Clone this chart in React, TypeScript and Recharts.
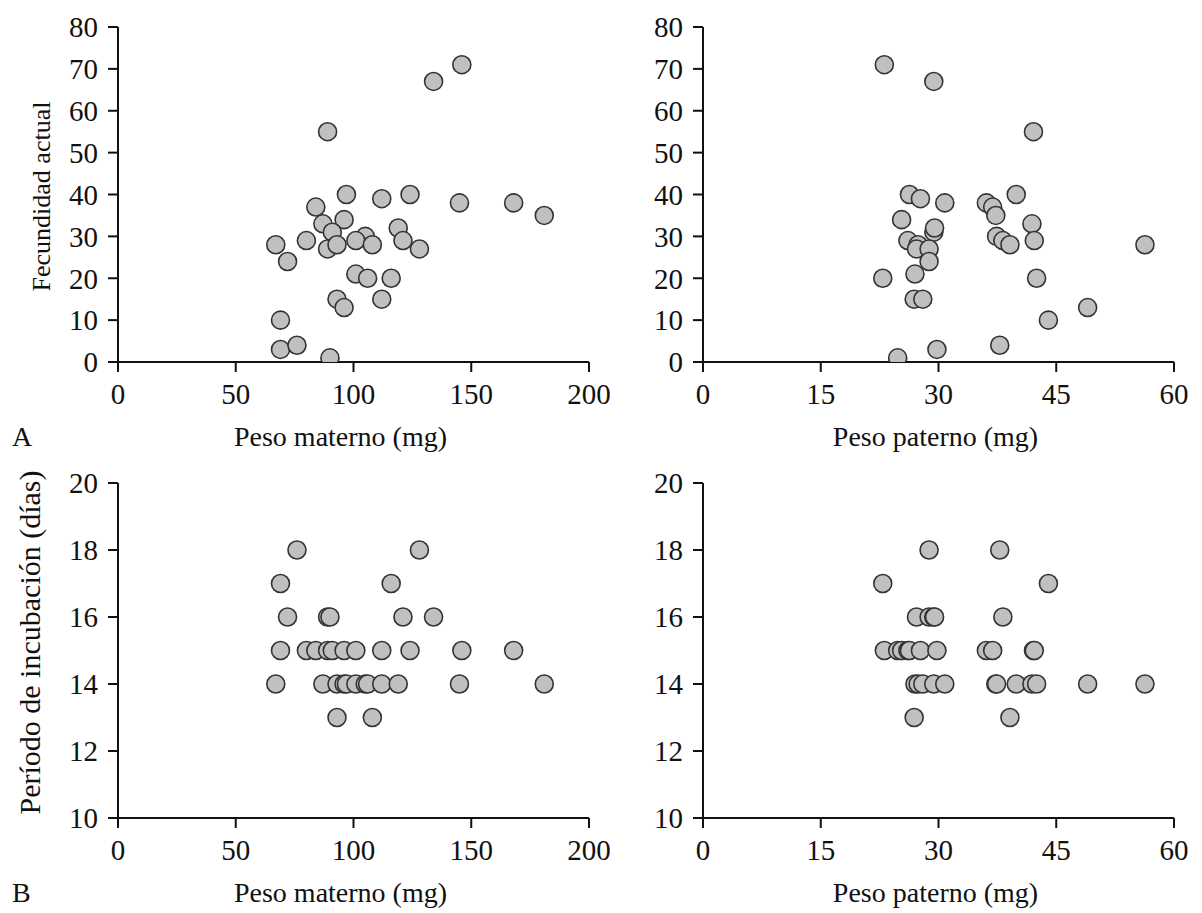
import React from 'react';
import { ScatterChart, Scatter, XAxis, YAxis, Label } from 'recharts';

// Panel A (top): fecundity vs maternal / paternal weight
const maternalWeightA = [146, 134, 89, 97, 112, 124, 145, 168, 181, 84, 87, 96, 91, 119, 105, 67, 80, 89, 93, 101, 108, 121, 128, 72, 101, 106, 116, 93, 96, 112, 69, 69, 76, 90];
const fecundityMaternal = [71, 67, 55, 40, 39, 40, 38, 38, 35, 37, 33, 34, 31, 32, 30, 28, 29, 27, 28, 29, 28, 29, 27, 24, 21, 20, 20, 15, 13, 15, 10, 3, 4, 1];

const paternalWeightA = [23.1, 29.4, 42.1, 26.3, 27.7, 30.8, 36.1, 36.9, 39.9, 25.3, 37.3, 41.9, 29.4, 29.5, 26.1, 27.4, 27.2, 28.8, 28.8, 37.4, 38.2, 39.1, 42.2, 56.3, 22.9, 27.0, 42.5, 26.9, 28.0, 49.0, 44.0, 37.8, 29.8, 24.8];
const fecundityPaternal = [71, 67, 55, 40, 39, 38, 38, 37, 40, 34, 35, 33, 31, 32, 29, 28, 27, 27, 24, 30, 29, 28, 29, 28, 20, 21, 20, 15, 15, 13, 10, 4, 3, 1];

// Panel B (bottom): incubation period vs maternal / paternal weight
const maternalWeightB = [67, 69, 69, 72, 76, 80, 84, 87, 89, 89, 90, 91, 93, 93, 96, 96, 97, 101, 101, 105, 106, 108, 112, 112, 116, 119, 121, 124, 128, 134, 145, 146, 168, 181];
const incubationMaternal = [14, 15, 17, 16, 18, 15, 15, 14, 16, 15, 16, 15, 14, 13, 15, 14, 14, 15, 14, 14, 14, 13, 15, 14, 17, 14, 16, 15, 18, 16, 14, 15, 15, 14];

const paternalWeightB = [22.9, 23.1, 24.8, 25.3, 26.1, 26.3, 26.9, 27.0, 27.2, 27.4, 27.7, 28.0, 28.8, 28.8, 29.4, 29.4, 29.5, 29.8, 30.8, 36.1, 36.9, 37.3, 37.4, 37.8, 38.2, 39.1, 39.9, 41.9, 42.1, 42.2, 42.5, 44.0, 49.0, 56.3];
const incubationPaternal = [17, 15, 15, 15, 15, 15, 13, 14, 16, 14, 15, 14, 18, 16, 16, 14, 16, 15, 14, 15, 15, 14, 14, 18, 16, 13, 14, 14, 15, 15, 14, 17, 14, 14];

const maternalTicks = [0, 50, 100, 150, 200];
const paternalTicks = [0, 15, 30, 45, 60];
const fecundityTicks = [0, 10, 20, 30, 40, 50, 60, 70, 80];
const incubationTicks = [10, 12, 14, 16, 18, 20];

const FONT = '"Liberation Serif", "Times New Roman", serif';
const INK = '#111';
const tickStyle = { fontSize: 29, fill: INK, fontFamily: FONT };
const axisLine = { stroke: INK, strokeWidth: 2 };

const zip = (xs: number[], ys: number[]) => xs.map((x, i) => ({ x, y: ys[i] }));

const Dot = (props: any) => {
  const { cx, cy } = props;
  if (cx == null || cy == null) return null;
  return <circle cx={cx} cy={cy} r={9} fill="#c0c0c0" stroke="#333" strokeWidth={1.6} />;
};

const makeXTitle = (text: string, dx: number, below: number) => (props: any) => {
  const vb = props.viewBox || {};
  const x = (vb.x ?? 0) + (vb.width ?? 0) / 2 + dx;
  const y = (vb.y ?? 0) + below;
  return (
    <text x={x} y={y} textAnchor="middle" fontSize={28} fill={INK} fontFamily={FONT}>
      {text}
    </text>
  );
};

const makeYTitle = (text: string, cxOff: number, shift: number, size: number) => (props: any) => {
  const vb = props.viewBox || {};
  const cx = (vb.x ?? 0) + cxOff;
  const cy = (vb.y ?? 0) + (vb.height ?? 0) / 2 + shift;
  return (
    <text
      x={cx}
      y={cy}
      dy="0.33em"
      textAnchor="middle"
      transform={`rotate(-90 ${cx} ${cy})`}
      fontSize={size}
      fill={INK}
      fontFamily={FONT}
    >
      {text}
    </text>
  );
};

type PanelProps = {
  left: number;
  top: number;
  width: number;
  height: number;
  yAxisWidth: number;
  rightMargin: number;
  xAxisHeight: number;
  data: { x: number; y: number }[];
  xTicks: number[];
  yTicks: number[];
  xTitle: string;
  xTitleDx: number;
  yTitle?: string;
  yTitleX?: number;
  yTitleShift?: number;
  yTitleSize?: number;
};

function Panel(p: PanelProps) {
  const xDomain: [number, number] = [p.xTicks[0], p.xTicks[p.xTicks.length - 1]];
  const yDomain: [number, number] = [p.yTicks[0], p.yTicks[p.yTicks.length - 1]];
  return (
    <div style={{ position: 'absolute', left: p.left, top: p.top, width: p.width, height: p.height }}>
      <ScatterChart
        width={p.width}
        height={p.height}
        margin={{ top: 27, right: p.rightMargin, bottom: 0, left: 0 }}
      >
        <XAxis
          type="number"
          dataKey="x"
          domain={xDomain}
          ticks={p.xTicks}
          interval={0}
          height={p.xAxisHeight}
          tick={tickStyle}
          tickSize={10}
          tickMargin={11}
          axisLine={axisLine}
          tickLine={axisLine}
          allowDataOverflow
        >
          <Label content={makeXTitle(p.xTitle, p.xTitleDx, 84)} />
        </XAxis>
        <YAxis
          type="number"
          dataKey="y"
          domain={yDomain}
          ticks={p.yTicks}
          interval={0}
          width={p.yAxisWidth}
          tick={tickStyle}
          tickSize={10}
          tickMargin={10}
          axisLine={axisLine}
          tickLine={axisLine}
          allowDataOverflow
        >
          {p.yTitle ? (
            <Label
              content={makeYTitle(p.yTitle, p.yTitleX ?? 40, p.yTitleShift ?? 0, p.yTitleSize ?? 28)}
            />
          ) : null}
        </YAxis>
        <Scatter data={p.data} shape={<Dot />} isAnimationActive={false} />
      </ScatterChart>
    </div>
  );
}

export default function App() {
  return (
    <div
      style={{
        position: 'absolute',
        left: 0,
        top: 0,
        width: 1202,
        height: 913,
        background: '#fff',
        fontFamily: FONT,
        overflow: 'hidden',
      }}
    >
      <Panel
        left={0}
        top={0}
        width={610}
        height={460}
        yAxisWidth={118}
        rightMargin={21}
        xAxisHeight={98}
        data={zip(maternalWeightA, fecundityMaternal)}
        xTicks={maternalTicks}
        yTicks={fecundityTicks}
        xTitle="Peso materno (mg)"
        xTitleDx={-13}
        yTitle="Fecundidad actual"
        yTitleX={41}
        yTitleShift={2}
        yTitleSize={26}
      />
      <Panel
        left={600}
        top={0}
        width={602}
        height={460}
        yAxisWidth={103}
        rightMargin={28}
        xAxisHeight={98}
        data={zip(paternalWeightA, fecundityPaternal)}
        xTicks={paternalTicks}
        yTicks={fecundityTicks}
        xTitle="Peso paterno (mg)"
        xTitleDx={-3}
      />
      <Panel
        left={0}
        top={456}
        width={610}
        height={457}
        yAxisWidth={118}
        rightMargin={21}
        xAxisHeight={95}
        data={zip(maternalWeightB, incubationMaternal)}
        xTicks={maternalTicks}
        yTicks={incubationTicks}
        xTitle="Peso materno (mg)"
        xTitleDx={-13}
        yTitle="Período de incubación (días)"
        yTitleX={30}
        yTitleShift={-8}
        yTitleSize={30}
      />
      <Panel
        left={600}
        top={456}
        width={602}
        height={457}
        yAxisWidth={103}
        rightMargin={28}
        xAxisHeight={95}
        data={zip(paternalWeightB, incubationPaternal)}
        xTicks={paternalTicks}
        yTicks={incubationTicks}
        xTitle="Peso paterno (mg)"
        xTitleDx={-3}
      />
      <svg
        width={1202}
        height={913}
        style={{ position: 'absolute', left: 0, top: 0, pointerEvents: 'none' }}
      >
        <text x={12} y={446} fontSize={28} fill={INK} fontFamily={FONT}>A</text>
        <text x={12} y={902} fontSize={28} fill={INK} fontFamily={FONT}>B</text>
      </svg>
    </div>
  );
}
